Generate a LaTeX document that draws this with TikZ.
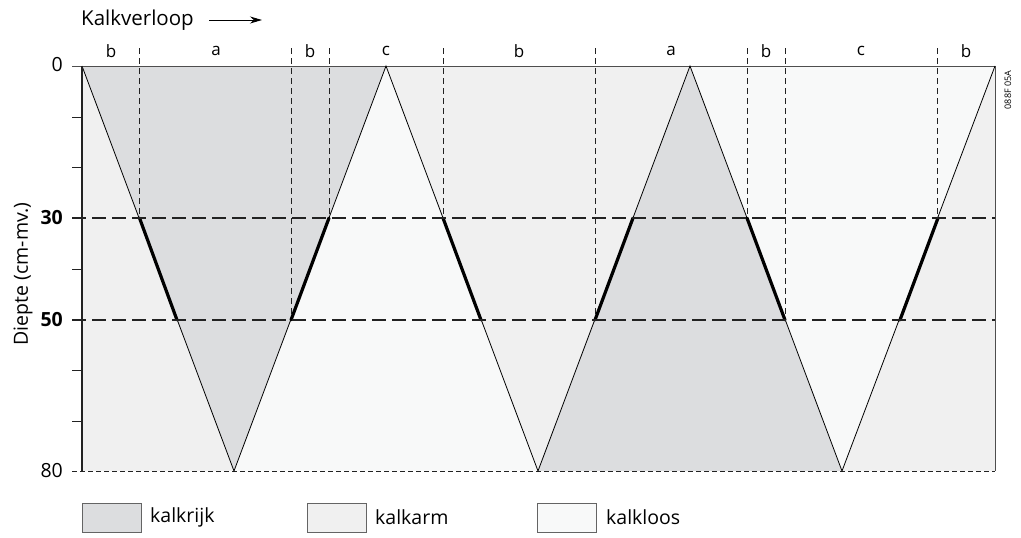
\documentclass[tikz,border=0pt]{standalone}
\usepackage{fontspec}
\setmainfont{Open Sans}
\usetikzlibrary{arrows.meta}
\definecolor{rijk}{HTML}{DCDDDF}
\definecolor{arm}{HTML}{F0F0F0}
\definecolor{loos}{HTML}{F8F9F9}
\definecolor{ink}{HTML}{222222}
\begin{document}
\begin{tikzpicture}[x=1pt,y=-1pt,
  vdash/.style={ink,line width=0.8pt,dash pattern=on 6pt off 4pt},
  hdash/.style={ink,line width=2.6pt,dash pattern=on 14pt off 6pt},
  zig/.style={black,line width=0.8pt},
  boldseg/.style={black,line width=3.2pt,line cap=round},
  lbl/.style={font=\fontsize{19.5}{22}\selectfont,inner sep=0pt},
  toplbl/.style={font=\fontsize{17}{20}\selectfont,inner sep=0pt},
  legbox/.style={draw=ink!70,line width=0.9pt,minimum width=59pt,minimum height=29pt,inner sep=0pt}]
\useasboundingbox (0,0) rectangle (1021,538);
% coordinates
\coordinate (T0) at (82,66); \coordinate (T1) at (386,66); \coordinate (T2) at (690,66); \coordinate (T3) at (995,66);
\coordinate (B1) at (234,471); \coordinate (B2) at (538,471); \coordinate (B3) at (842,471);
\coordinate (L80) at (82,471); \coordinate (R80) at (995,471);
% fills
\fill[arm] (T0) -- (B1) -- (L80) -- cycle;
\fill[rijk] (T0) -- (T1) -- (B1) -- cycle;
\fill[loos] (B1) -- (T1) -- (B2) -- cycle;
\fill[arm] (T1) -- (T2) -- (B2) -- cycle;
\fill[rijk] (B2) -- (T2) -- (B3) -- cycle;
\fill[loos] (T2) -- (T3) -- (B3) -- cycle;
\fill[arm] (B3) -- (T3) -- (R80) -- cycle;
% vertical dashed
\foreach \x/\y in {139.5/218, 291/320, 329/218, 443/218, 595/320, 747.5/218, 785/320, 937.5/218}
  \draw[vdash] (\x,48) -- (\x,\y);
% frame
\draw[ink!80,line width=0.9pt] (72,66) -- (995,66) -- (995,471);
\draw[ink,line width=0.9pt,dash pattern=on 5pt off 3pt] (72,471) -- (995,471);
% zigzag
\draw[zig] (T0) -- (B1) -- (T1) -- (B2) -- (T2) -- (B3) -- (T3);
% bold segments
\draw[boldseg] (139.5,218) -- (177,320);
\draw[boldseg] (291,320) -- (329,218);
\draw[boldseg] (443,218) -- (481,320);
\draw[boldseg] (595,320) -- (633,218);
\draw[boldseg] (747,218) -- (785,320);
\draw[boldseg] (900,320) -- (938,218);
% horizontal dashed
\draw[hdash] (72,218) -- (995,218);
\draw[hdash] (72,320) -- (995,320);
% left axis
\draw[ink,line width=1.3pt] (82,66) -- (82,471);
\foreach \y in {117,167,269,370,421}
  \draw[ink,line width=1pt] (72,\y) -- (82,\y);
% axis labels
\node[lbl,anchor=east] (d0) at (63,65) {0};
\node[lbl,anchor=east,font=\fontsize{19.5}{22}\selectfont\bfseries] (d30) at (63,218) {30};
\node[lbl,anchor=east,font=\fontsize{19.5}{22}\selectfont\bfseries] (d50) at (63,320) {50};
\node[lbl,anchor=east] (d80) at (63,471) {80};
\node[lbl,rotate=90] (ylab) at (23,274) {Diepte (cm-mv.)};
% top labels
\foreach \x/\t [count=\i] in {111/b,216/a,310/b,386/c,519/b,671/a,766/b,861/c,966/b}
  \node[toplbl] (top\i) at (\x,51) {\t};
\node[lbl,anchor=west,font=\fontsize{20.5}{23}\selectfont] (kv) at (81,20) {Kalkverloop};
\coordinate (ar1) at (209,20); \coordinate (ar2) at (262,20);
\draw[black,line width=0.9pt,-{Stealth[length=12pt,width=7pt]}] (ar1) -- (ar2);
\node[font=\fontsize{9}{10}\selectfont,rotate=90,inner sep=0pt] (code) at (1008,90) {088F 05A};
% legend
\node[legbox,fill=rijk,anchor=north west] (lg1) at (82,503) {};
\node[lbl,anchor=west] (lt1) at (150,517) {kalkrijk};
\node[legbox,fill=arm,anchor=north west] (lg2) at (307,503) {};
\node[lbl,anchor=west] (lt2) at (375,517) {kalkarm};
\node[legbox,fill=loos,anchor=north west] (lg3) at (537,503) {};
\node[lbl,anchor=west] (lt3) at (606,517) {kalkloos};
\end{tikzpicture}
\end{document}
